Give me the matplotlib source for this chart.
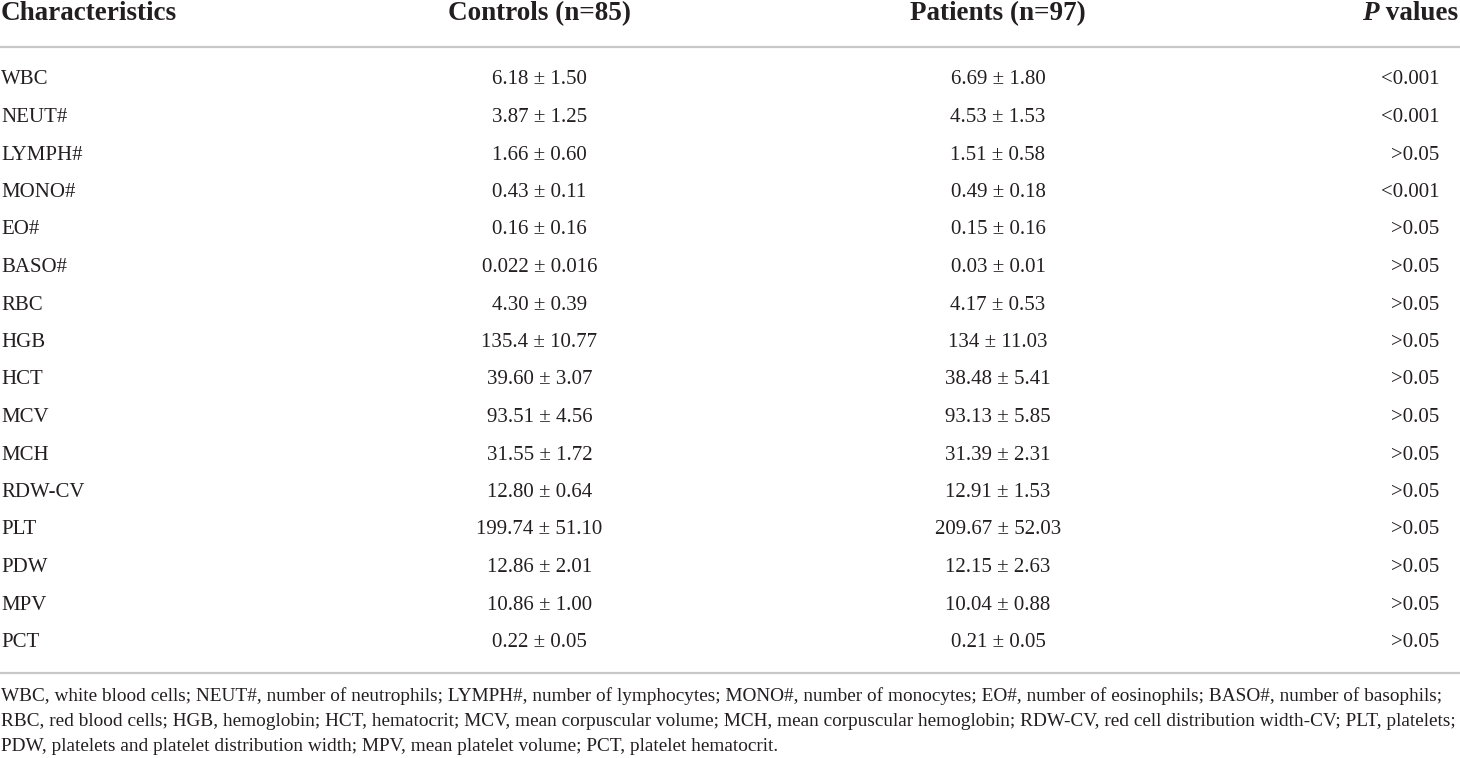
import matplotlib
matplotlib.use("Agg")
import matplotlib.pyplot as plt

characteristics = ["WBC", "NEUT#", "LYMPH#", "MONO#", "EO#", "BASO#", "RBC", "HGB",
                   "HCT", "MCV", "MCH", "RDW-CV", "PLT", "PDW", "MPV", "PCT"]
controls = ["6.18 ± 1.50", "3.87 ± 1.25", "1.66 ± 0.60", "0.43 ± 0.11", "0.16 ± 0.16",
            "0.022 ± 0.016", "4.30 ± 0.39", "135.4 ± 10.77", "39.60 ± 3.07", "93.51 ± 4.56",
            "31.55 ± 1.72", "12.80 ± 0.64", "199.74 ± 51.10", "12.86 ± 2.01", "10.86 ± 1.00",
            "0.22 ± 0.05"]
patients = ["6.69 ± 1.80", "4.53 ± 1.53", "1.51 ± 0.58", "0.49 ± 0.18", "0.15 ± 0.16",
            "0.03 ± 0.01", "4.17 ± 0.53", "134 ± 11.03", "38.48 ± 5.41", "93.13 ± 5.85",
            "31.39 ± 2.31", "12.91 ± 1.53", "209.67 ± 52.03", "12.15 ± 2.63", "10.04 ± 0.88",
            "0.21 ± 0.05"]
pvalues = ["<0.001", "<0.001", ">0.05", "<0.001", ">0.05", ">0.05", ">0.05", ">0.05",
           ">0.05", ">0.05", ">0.05", ">0.05", ">0.05", ">0.05", ">0.05", ">0.05"]
headers = ["Characteristics", "Controls (n=85)", "Patients (n=97)", "values"]
footnote = [
    "WBC, white blood cells; NEUT#, number of neutrophils; LYMPH#, number of lymphocytes; MONO#, number of monocytes; EO#, number of eosinophils; BASO#, number of basophils;",
    "RBC, red blood cells; HGB, hemoglobin; HCT, hematocrit; MCV, mean corpuscular volume; MCH, mean corpuscular hemoglobin; RDW-CV, red cell distribution width-CV; PLT, platelets;",
    "PDW, platelets and platelet distribution width; MPV, mean platelet volume; PCT, platelet hematocrit.",
]

W, H = 1460, 758
fig = plt.figure(figsize=(W / 100, H / 100), dpi=100)
ax = fig.add_axes([0, 0, 1, 1])
ax.set_xlim(0, W)
ax.set_ylim(H, 0)
ax.axis("off")

font = ["Liberation Serif", "DejaVu Serif"]
col = "#231f20"
body = 15
head = 19.5
foot = 13.9
x_char, x_ctrl, x_pat, x_p, x_phead = 1, 539.5, 998, 1439, 1458
header_base = 20
row0, dy = 84.5, 37.5
foot0, fdy = 701, 25

ax.text(x_char, header_base, headers[0], ha="left", va="baseline", fontsize=head,
        fontweight="bold", family=font, color=col)
ax.text(x_ctrl, header_base, headers[1], ha="center", va="baseline", fontsize=head,
        fontweight="bold", family=font, color=col)
ax.text(x_pat, header_base, headers[2], ha="center", va="baseline", fontsize=head,
        fontweight="bold", family=font, color=col)
t = ax.text(x_phead, header_base, " " + headers[3], ha="right", va="baseline", fontsize=head,
            fontweight="bold", family=font, color=col)
fig.canvas.draw()
renderer = fig.canvas.get_renderer()
bb = t.get_window_extent(renderer)
xl = ax.transData.inverted().transform((bb.x0, 0))[0]
ax.text(xl, header_base, "P", ha="right", va="baseline", fontsize=head,
        fontweight="bold", fontstyle="italic", family=font, color=col)

for ly in (46.7, 673):
    ax.plot([0, W], [ly, ly], color="#c8c8c8", lw=1.6, solid_capstyle="butt")

for i, (c, a, b, p) in enumerate(zip(characteristics, controls, patients, pvalues)):
    y = row0 + i * dy
    ax.text(x_char, y, c, ha="left", va="baseline", fontsize=body, family=font, color=col)
    ax.text(x_ctrl, y, a, ha="center", va="baseline", fontsize=body, family=font, color=col)
    ax.text(x_pat, y, b, ha="center", va="baseline", fontsize=body, family=font, color=col)
    ax.text(x_p, y, p, ha="right", va="baseline", fontsize=body, family=font, color=col)

for j, line in enumerate(footnote):
    ax.text(x_char, foot0 + j * fdy, line, ha="left", va="baseline", fontsize=foot,
            family=font, color=col)

fig.savefig("out.png", dpi=100)
